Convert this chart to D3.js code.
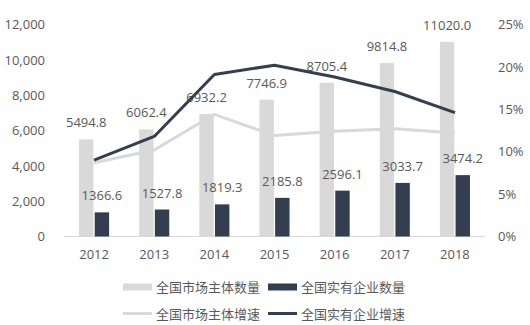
<!DOCTYPE html>
<html>
<head>
<meta charset="utf-8">
<script src="https://cdn.jsdelivr.net/npm/d3@7"></script>
<style>
  html, body { margin: 0; padding: 0; background: #fff; }
  svg text { font-family: "Open Sans", "Noto Sans CJK SC", sans-serif; fill: #595959; }
</style>
</head>
<body>
<svg id="chart" width="530" height="325"></svg>
<script>
// Years on the category axis
const years = ["2012", "2013", "2014", "2015", "2016", "2017", "2018"];
// Counts (万户)
const marketCount = [5494.8, 6062.4, 6932.2, 7746.9, 8705.4, 9814.8, 11020.0];
const enterpriseCount = [1366.6, 1527.8, 1819.3, 2185.8, 2596.1, 3033.7, 3474.2];
// Growth rates (%)
const marketGrowth = [8.7, 10.2, 14.4, 11.9, 12.4, 12.7, 12.2];
const enterpriseGrowth = [9.0, 11.8, 19.1, 20.2, 18.8, 17.1, 14.6];
// Axis ticks
const leftTicks = [0, 2000, 4000, 6000, 8000, 10000, 12000];
const rightTicks = [0, 5, 10, 15, 20, 25];
// Legend labels
const seriesNames = ["全国市场主体数量", "全国实有企业数量", "全国市场主体增速", "全国实有企业增速"];

const colorLight = "#d9d9d9";
const colorDark = "#333f50";

const svg = d3.select("#chart");
const plotTop = 24.5, plotBottom = 236.5, plotLeft = 64, plotRight = 485;

const x = d3.scaleBand().domain(years).range([plotLeft, plotRight]).paddingInner(0.5).paddingOuter(0.25);
const x1 = d3.scaleBand().domain([0, 1]).range([0, x.bandwidth()]).paddingInner(0.08);
const yL = d3.scaleLinear().domain([0, 12000]).range([plotBottom, plotTop]);
const yR = d3.scaleLinear().domain([0, 25]).range([plotBottom, plotTop]);
const cx = d => x(d) + x.bandwidth() / 2;

// Left axis
const gL = svg.append("g").attr("transform", `translate(45,0)`)
  .call(d3.axisLeft(yL).tickValues(leftTicks).tickFormat(d3.format(",")).tickSize(0).tickPadding(0));
gL.select(".domain").remove();
gL.selectAll("text").attr("font-size", 13).attr("font-family", null);

// Right axis
const gR = svg.append("g").attr("transform", `translate(498,0)`)
  .call(d3.axisRight(yR).tickValues(rightTicks).tickFormat(d => d + "%").tickSize(0).tickPadding(0));
gR.select(".domain").remove();
gR.selectAll("text").attr("font-size", 13).attr("font-family", null);

// Category axis
svg.append("line").attr("x1", plotLeft).attr("x2", plotRight).attr("y1", plotBottom).attr("y2", plotBottom)
  .attr("stroke", colorLight).attr("stroke-width", 1);
svg.append("g").selectAll("text").data(years).join("text")
  .attr("x", d => cx(d)).attr("y", 254).attr("text-anchor", "middle")
  .attr("dominant-baseline", "central").attr("font-size", 13).text(d => d);

// Bars
const rows = years.map((yr, i) => ({ yr, vals: [marketCount[i], enterpriseCount[i]] }));
const groups = svg.append("g").selectAll("g").data(rows).join("g")
  .attr("transform", d => `translate(${x(d.yr)},0)`);
groups.selectAll("rect").data(d => d.vals.map((v, k) => ({ v, k }))).join("rect")
  .attr("x", d => x1(d.k)).attr("width", x1.bandwidth())
  .attr("y", d => yL(d.v)).attr("height", d => plotBottom - yL(d.v))
  .attr("fill", d => d.k === 0 ? colorLight : colorDark);
groups.selectAll("text").data(d => d.vals.map((v, k) => ({ v, k }))).join("text")
  .attr("x", d => x1(d.k) + x1.bandwidth() / 2).attr("y", d => yL(d.v) - 17)
  .attr("text-anchor", "middle").attr("dominant-baseline", "central").attr("font-size", 13)
  .text(d => d3.format(".1f")(d.v));

// Growth lines
const line = d3.line().x((d, i) => cx(years[i])).y(d => yR(d));
svg.append("path").datum(marketGrowth).attr("d", line)
  .attr("fill", "none").attr("stroke", colorLight).attr("stroke-width", 3).attr("stroke-linejoin", "round");
svg.append("path").datum(enterpriseGrowth).attr("d", line)
  .attr("fill", "none").attr("stroke", colorDark).attr("stroke-width", 3).attr("stroke-linejoin", "round");

// Legend
const legendItems = [
  { name: seriesNames[0], type: "rect", color: colorLight, x: 123, y: 287 },
  { name: seriesNames[1], type: "rect", color: colorDark, x: 268, y: 287 },
  { name: seriesNames[2], type: "line", color: colorLight, x: 123, y: 313.5 },
  { name: seriesNames[3], type: "line", color: colorDark, x: 268, y: 313.5 }
];
const lg = svg.append("g").selectAll("g").data(legendItems).join("g")
  .attr("transform", d => `translate(${d.x},${d.y})`);
lg.filter(d => d.type === "rect").append("rect")
  .attr("x", 0).attr("y", -3.5).attr("width", 29).attr("height", 7).attr("fill", d => d.color);
lg.filter(d => d.type === "line").append("line")
  .attr("x1", 0).attr("x2", 29).attr("y1", 0).attr("y2", 0)
  .attr("stroke", d => d.color).attr("stroke-width", 3);
lg.append("text").attr("x", 33).attr("y", 0).attr("dominant-baseline", "central")
  .attr("font-size", 13).text(d => d.name);
</script>
</body>
</html>
